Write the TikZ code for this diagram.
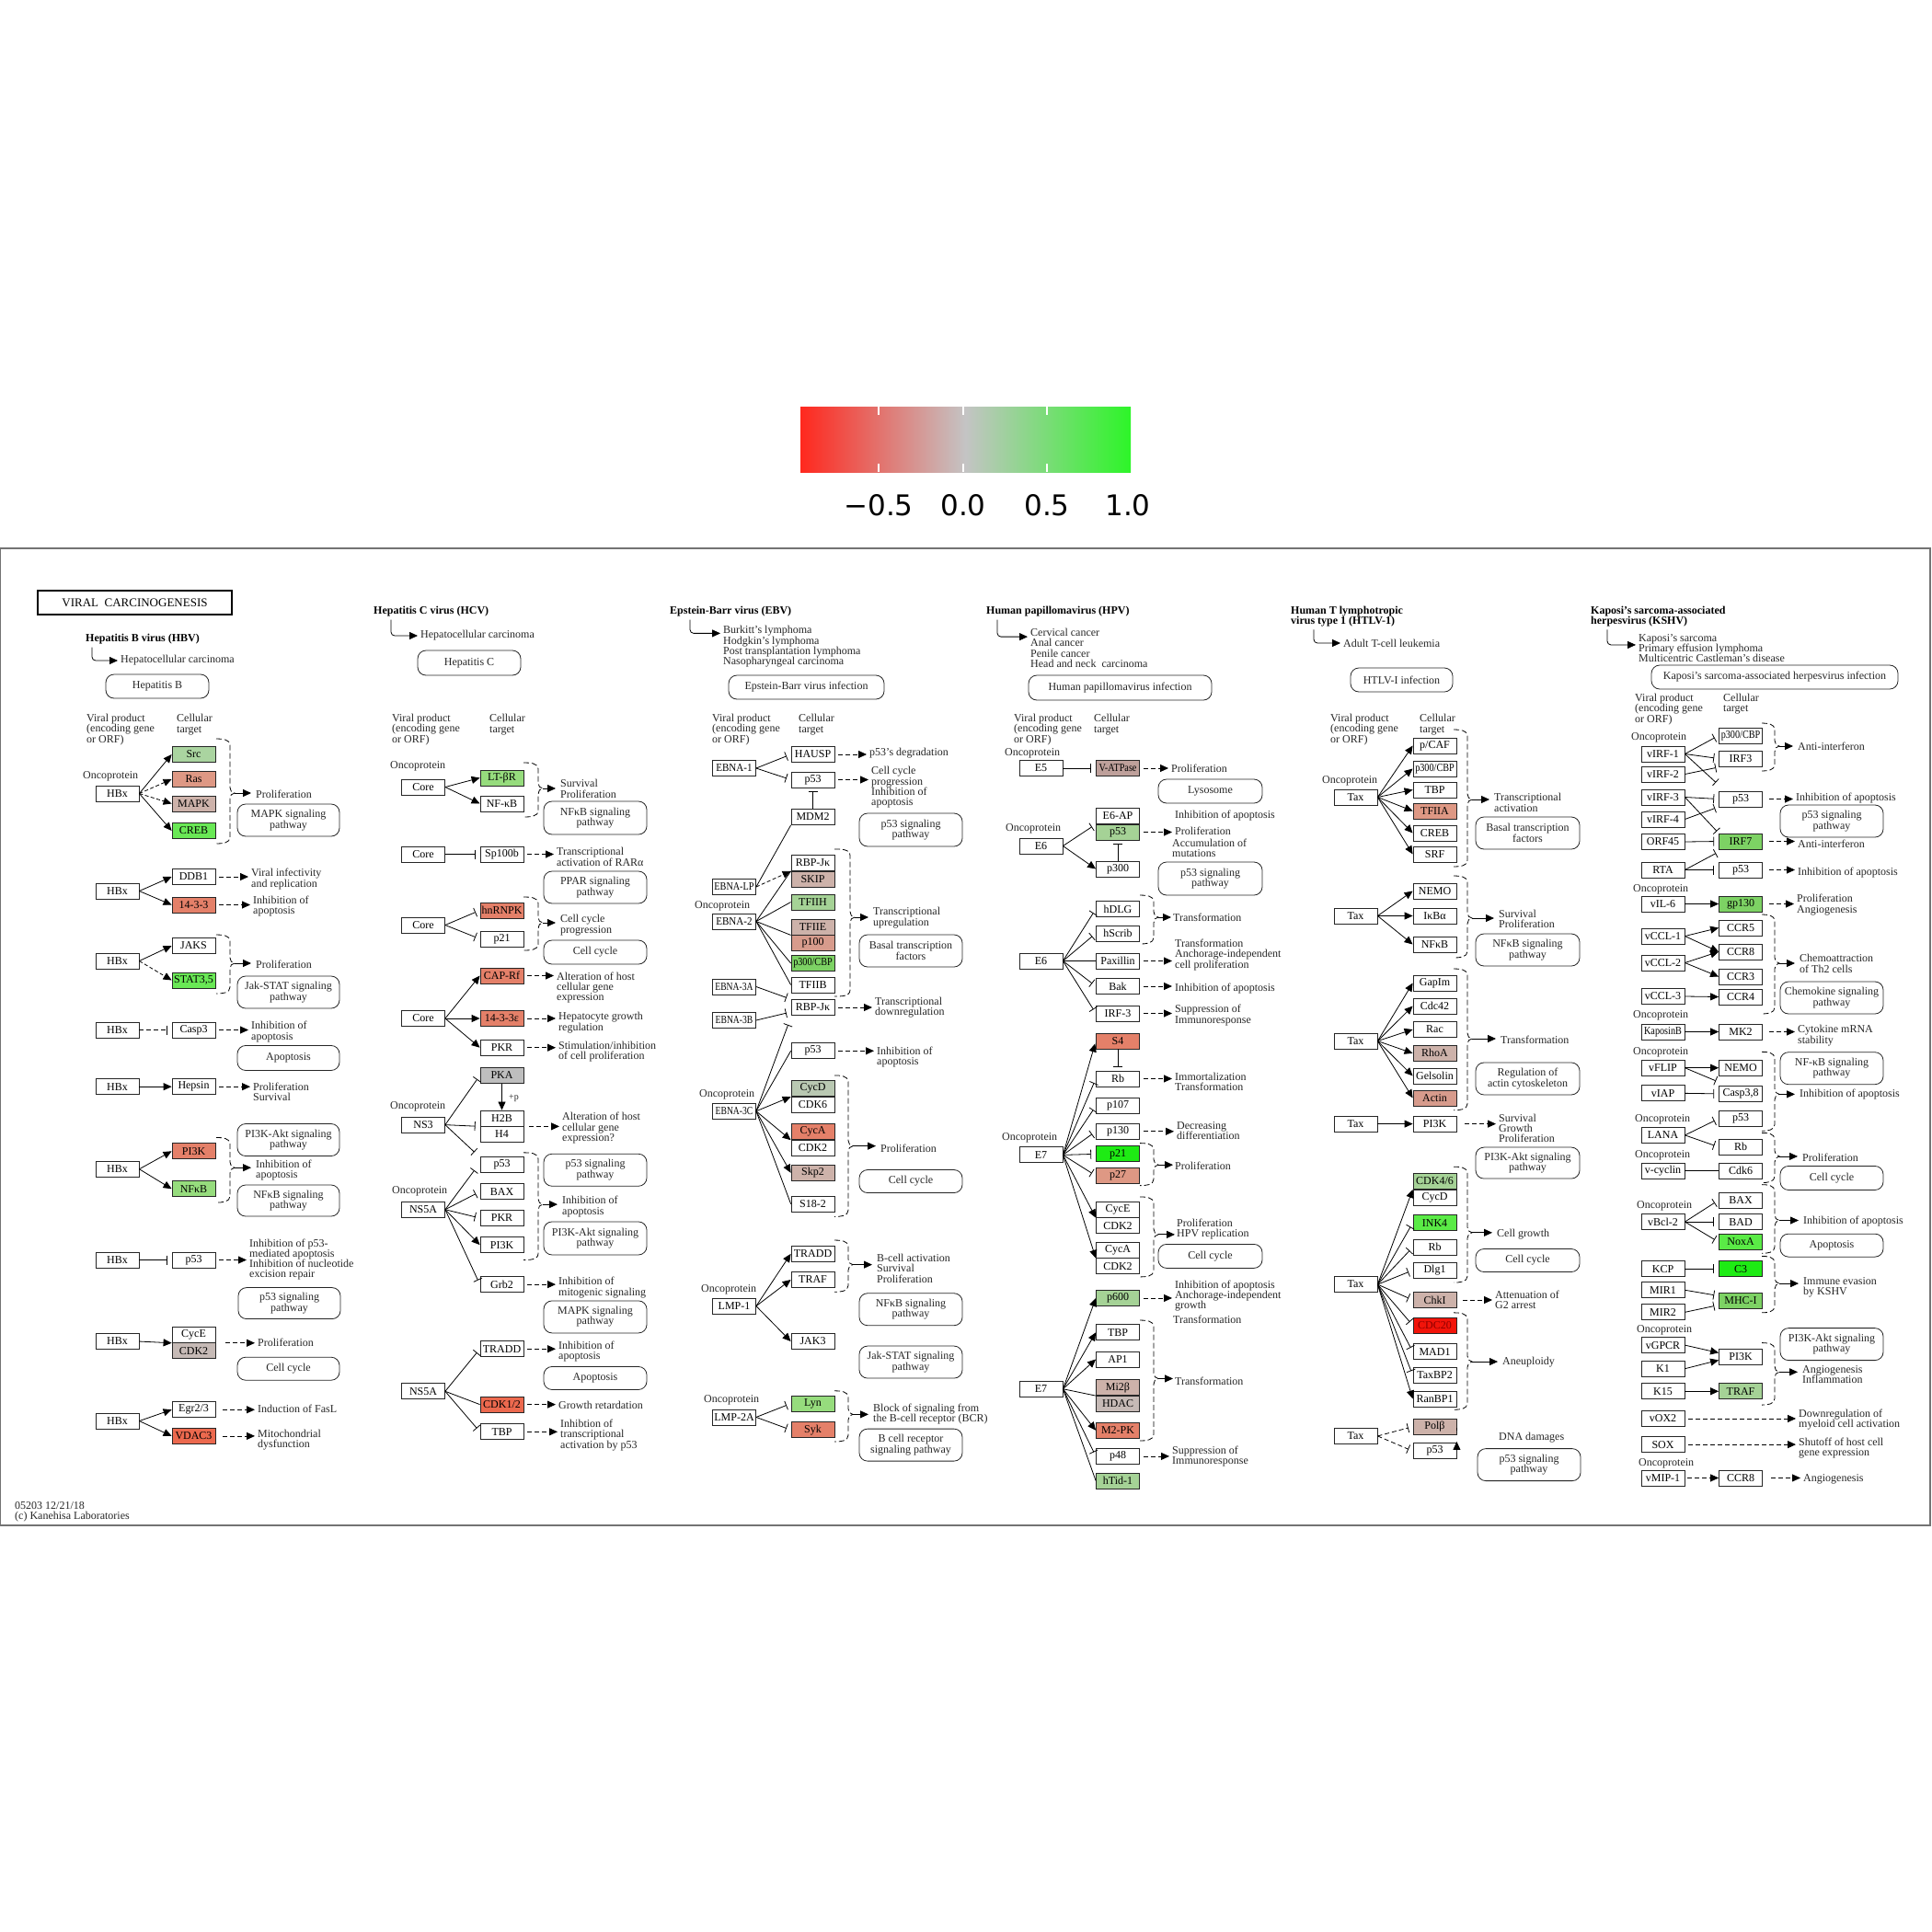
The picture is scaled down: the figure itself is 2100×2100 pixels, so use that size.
\documentclass[tikz,border=0pt]{standalone}
\usepackage{fontspec}
\usepackage{graphicx}
\setmainfont{Liberation Serif}
\newfontfamily\barfont{DejaVu Sans}
\usetikzlibrary{arrows.meta,calc}
\newcommand\gfs{\fontsize{12}{11.3}\selectfont}
\newcommand\sq[2][0.85]{\scalebox{#1}[1]{#2}}
\pgfmathdeclarefunction{fy}{1}{\pgfmathparse{#1+(#1>1130)*(#1-1130)*0.0235}}
\definecolor{kG1}{RGB}{170,212,160}
\definecolor{kG2}{RGB}{105,232,85}
\definecolor{kG3}{RGB}{150,220,125}
\definecolor{kG4}{RGB}{30,235,20}
\definecolor{kG5}{RGB}{185,200,178}
\definecolor{kG6}{RGB}{125,210,100}
\definecolor{kG7}{RGB}{165,210,150}
\definecolor{kG8}{RGB}{90,235,70}
\definecolor{kR1}{RGB}{222,152,132}
\definecolor{kR2}{RGB}{228,128,105}
\definecolor{kR3}{RGB}{236,105,78}
\definecolor{kR4}{RGB}{242,20,10}
\definecolor{kR5}{RGB}{215,155,140}
\definecolor{kP1}{RGB}{205,178,170}
\definecolor{kP2}{RGB}{198,186,182}
\definecolor{kP3}{RGB}{190,160,155}
\definecolor{kGy}{RGB}{190,190,190}
\definecolor{cbR}{RGB}{255,40,30}
\definecolor{cbM}{RGB}{196,196,196}
\definecolor{cbG}{RGB}{45,245,40}
\tikzset{
 gene/.style={draw=black!85, line width=0.8pt, minimum width=47pt, minimum height=17pt, inner sep=0pt, font=\gfs},
 lbl/.style={anchor=west, align=left, inner sep=0pt, font=\gfs, text=black!85},
 hdr/.style={anchor=west, align=left, inner sep=0pt, font=\bfseries\gfs},
 pway/.style={draw=black!85, line width=0.8pt, rounded corners=9pt, align=center, inner sep=0pt, font=\gfs, text=black!85},
 act/.style={line width=0.8pt, -{Triangle[length=9pt,width=8pt]}},
 dacts/.style={act, dash pattern=on 4pt off 2.5pt},
 dact/.style={act, dash pattern=on 5pt off 3pt, shorten <=4pt, shorten >=3pt},
 inh/.style={line width=0.8pt, -{Bar[width=10pt]}, shorten >=5pt},
 inhz/.style={line width=0.8pt, -{Bar[width=10pt]}},
 dinh/.style={inh, dash pattern=on 5pt off 3pt},
 ln/.style={line width=0.8pt},
 kbrace/.style={line width=0.8pt, dash pattern=on 6pt off 3pt},
 bra/.style={act, shorten >=5pt},
 elb/.style={act, rounded corners=4pt, shorten >=3pt},
}
\newcommand\gn[5][white]{\node[gene,fill=#1] (#2) at (#3,{fy(#4)}) {#5};}
\newcommand\lb[4]{\node[lbl] (#1) at (#2,{fy(#3)}) {#4};}
\newcommand\pw[6]{\node[pway,minimum width=#4pt,minimum height=#5pt] (#1) at (#2,{fy(#3)}) {#6};}
\newcommand\brk[6]{\draw[kbrace] (#2,{fy(#4)}) to[out=0,in=90] (#3,{fy(#4)+7}) -- (#3,{fy(#5)-6}) to[out=-90,in=180] (#3+5,{fy(#5)}) to[out=180,in=90] (#3,{fy(#5)+6}) -- (#3,{fy(#6)-7}) to[out=-90,in=0] (#2,{fy(#6)}); \coordinate (#1) at (#3+5,{fy(#5)});}
\begin{document}
\begin{tikzpicture}[x=1pt,y=-1pt]
\fill[white] (0,0) rectangle (2100,2100);
\useasboundingbox (0,0) rectangle (2100,2100);
% colour bar
\shade[left color=cbR, right color=cbG, middle color=cbM] (870,442) rectangle (1229,513);
\foreach \t in {955,1047,1138}{\draw[white, line width=1.3pt] (\t,442) -- (\t,451) (\t,504) -- (\t,513);}
\node[font=\barfont\fontsize{31}{31}\selectfont] (cb1) at (955,549) {−0.5};
\node[font=\barfont\fontsize{31}{31}\selectfont] (cb2) at (1047,549) {0.0};
\node[font=\barfont\fontsize{31}{31}\selectfont] (cb3) at (1138,549) {0.5};
\node[font=\barfont\fontsize{31}{31}\selectfont] (cb4) at (1226,549) {1.0};
% frame
\draw[black!55, line width=1.2pt] (0.6,596) rectangle (2098,1658);
% ================= HBV =================
\node[draw=black, line width=1.6pt, minimum width=211pt, minimum height=26pt, inner sep=0pt, font=\fontsize{13}{13}\selectfont] (aT) at (146.5,655) {VIRAL\ \ CARCINOGENESIS};
\node[hdr] (aH) at (93,695) {Hepatitis B virus (HBV)};
\lb{aD}{131}{718}{Hepatocellular carcinoma}
\draw[elb] ($(aH.south west)+(7,3)$) |- (aD.west);
\pw{aP0}{171}{746}{112}{26}{Hepatitis B}
\lb{aVP}{94}{793}{Viral product\\(encoding gene\\or ORF)}
\lb{aCT}{192}{787.5}{Cellular\\target}
\lb{aO1}{90}{844}{Oncoprotein}
\gn{aHBx1}{127.5}{862.5}{HBx}
\gn[kG1]{aSrc}{210.5}{820}{Src}
\gn[kR1]{aRas}{210.5}{847}{Ras}
\gn[kP1]{aMAPK}{210.5}{873.5}{MAPK}
\gn[kG2]{aCREB}{210.5}{903}{CREB}
\draw[act] (aHBx1.east) -- (aSrc.west);
\draw[dacts] (aHBx1.east) -- (aRas.west);
\draw[dacts] (aHBx1.east) -- (aMAPK.west);
\draw[act] (aHBx1.east) -- (aCREB.west);
\brk{aB1}{235}{250}{803}{862}{917}
\lb{aL1}{278}{863}{Proliferation}
\draw[bra] (aB1) -- (aB1 -| aL1.west);
\pw{aP1}{313.5}{891.5}{111}{35}{MAPK signaling\\pathway}
\gn{aHBx2}{127.5}{968.5}{HBx}
\gn{aDDB1}{210.5}{953}{DDB1}
\gn[kR2]{a1433}{210.5}{983.5}{14-3-3}
\draw[act] (aHBx2.east) -- (aDDB1.west);
\draw[act] (aHBx2.east) -- (a1433.west);
\lb{aL2}{273}{955.5}{Viral infectivity\\and replication}
\lb{aL3}{275}{985}{Inhibition of\\apoptosis}
\draw[dact] (aDDB1.east) -- (aDDB1.east -| aL2.west);
\draw[dact] (a1433.east) -- (a1433.east -| aL3.west);
\gn{aHBx3}{127.5}{1044.5}{HBx}
\gn{aJAKS}{210.5}{1028}{JAKS}
\gn[kG2]{aSTAT}{210.5}{1065.5}{STAT3,5}
\draw[act] (aHBx3.east) -- (aJAKS.west);
\draw[dacts] (aHBx3.east) -- (aSTAT.west);
\brk{aB2}{235}{250}{1016}{1047}{1080}
\lb{aL4}{278}{1048}{Proliferation}
\draw[bra] (aB2) -- (aB2 -| aL4.west);
\pw{aP2}{313.5}{1078.5}{111}{35}{Jak-STAT signaling\\pathway}
\gn{aHBx4}{127.5}{1119.5}{HBx}
\gn{aCasp3}{210.5}{1119.5}{Casp3}
\draw[dinh] (aHBx4.east) -- (aCasp3.west);
\lb{aL5}{273}{1121.5}{Inhibition of\\apoptosis}
\draw[dact] (aCasp3.east) -- (aCasp3.east -| aL5.west);
\pw{aP3}{313.5}{1149.5}{111}{27}{Apoptosis}
\gn{aHBx5}{127.5}{1180}{HBx}
\gn{aHepsin}{210.5}{1180}{Hepsin}
\draw[act] (aHBx5.east) -- (aHepsin.west);
\lb{aL6}{275}{1185.5}{Proliferation\\Survival}
\draw[dact] (aHepsin.east) -- (aHepsin.east -| aL6.west);
\gn{aHBx6}{127.5}{1267.5}{HBx}
\gn[kR2]{aPI3K}{210.5}{1248.5}{PI3K}
\gn[kG3]{aNFkB}{210.5}{1288.5}{NFκB}
\draw[act] (aHBx6.east) -- (aPI3K.west);
\draw[act] (aHBx6.east) -- (aNFkB.west);
\brk{aB3}{235}{250}{1234}{1266}{1303}
\lb{aL7}{278}{1268.5}{Inhibition of\\apoptosis}
\draw[bra] (aB3) -- (aB3 -| aL7.west);
\pw{aP4}{313.5}{1236.5}{111}{35}{PI3K-Akt signaling\\pathway}
\pw{aP5}{313.5}{1301}{111}{34}{NFκB signaling\\pathway}
\gn{aHBx7}{127.5}{1364}{HBx}
\gn{ap53}{210.5}{1364}{p53}
\draw[inh] (aHBx7.east) -- (ap53.west);
\lb{aL8}{271}{1363.5}{Inhibition of p53-\\mediated apoptosis\\Inhibition of nucleotide\\excision repair}
\draw[dact] (ap53.east) -- (ap53.east -| aL8.west);
\pw{aP6}{314.5}{1410}{111}{34}{p53 signaling\\pathway}
\gn{aHBx8}{127.5}{1450.5}{HBx}
\gn{aCycE}{210.5}{1443.5}{CycE}
\gn[kP2]{aCDK2}{210.5}{1460.5}{CDK2}
\draw[act] (aHBx8.east) -- (aCycE.south west);
\lb{aL9}{280}{1452}{Proliferation}
\draw[dact, shorten <=11pt] (aCycE.south east) -- (aCycE.south east -| aL9.west);
\pw{aP7}{313.5}{1479.5}{111}{25}{Cell cycle}
\gn{aHBx9}{127.5}{1535}{HBx}
\gn{aEgr}{210.5}{1523}{Egr2/3}
\gn[kR3]{aVDAC}{210.5}{1551}{VDAC3}
\draw[act] (aHBx9.east) -- (aEgr.west);
\draw[act] (aHBx9.east) -- (aVDAC.west);
\lb{aL10}{280}{1522}{Induction of FasL}
\lb{aL11}{280}{1555}{Mitochondrial\\dysfunction}
\draw[dact, shorten <=8pt] (aEgr.east) -- (aEgr.east -| aL10.west);
\draw[dact, shorten <=8pt] (aVDAC.east) -- (aVDAC.east -| aL11.west);
\lb{aF}{16}{1631.5}{05203 12/21/18\\(c) Kanehisa Laboratories}
% ================= HCV =================
\node[hdr] (bH) at (406,665) {Hepatitis C virus (HCV)};
\lb{bD}{457}{691}{Hepatocellular carcinoma}
\draw[elb] ($(bH.south west)+(19,3)$) |- (bD.west);
\pw{bP0}{510}{720.5}{112}{27}{Hepatitis C}
\lb{bVP}{426}{793}{Viral product\\(encoding gene\\or ORF)}
\lb{bCT}{532}{787.5}{Cellular\\target}
\lb{bO1}{424}{833}{Oncoprotein}
\gn{bCore1}{460}{855.5}{Core}
\gn[kG3]{bLTbR}{545.5}{845.5}{LT-βR}
\gn{bNFkB}{545.5}{873.5}{NF-κB}
\draw[act] (bCore1.east) -- (bLTbR.west);
\draw[act] (bCore1.east) -- (bNFkB.west);
\brk{bB1}{569}{585}{829}{857}{888}
\lb{bL1}{609}{857.5}{Survival\\Proliferation}
\draw[bra] (bB1) -- (bB1 -| bL1.west);
\pw{bP1}{647}{889}{112}{36}{NFκB signaling\\pathway}
\gn{bCore2}{460}{928.5}{Core}
\gn{bSp100b}{545.5}{928.5}{Sp100b}
\draw[inh] (bCore2.east) -- (bSp100b.west);
\lb{bL2}{605}{931.5}{Transcriptional\\activation of RARα}
\draw[dact] (bSp100b.east) -- (bSp100b.east -| bL2.west);
\pw{bP2}{647}{964.5}{112}{35}{PPAR signaling\\pathway}
\gn{bCore3}{460}{1005.5}{Core}
\gn[kR2]{bhnRNPK}{545.5}{989.5}{hnRNPK}
\gn{bp21}{545.5}{1020.5}{p21}
\draw[inh] (bCore3.east) -- (bhnRNPK.west);
\draw[inh] (bCore3.east) -- (bp21.west);
\brk{bB2}{569}{585}{975}{1003}{1033}
\lb{bL3}{609}{1005.5}{Cell cycle\\progression}
\draw[bra] (bB2) -- (bB2 -| bL3.west);
\pw{bP3}{647}{1035}{112}{26}{Cell cycle}
\gn{bCore4}{460}{1107}{Core}
\gn[kR2]{bCAPRf}{545.5}{1060.5}{CAP-Rf}
\gn[kR2]{b1433e}{545.5}{1107}{14-3-3ε}
\gn{bPKR}{545.5}{1138.5}{PKR}
\draw[act] (bCore4.east) -- (bCAPRf.west);
\draw[act] (bCore4.east) -- (b1433e.west);
\draw[act] (bCore4.east) -- (bPKR.west);
\lb{bL4}{605}{1073.5}{Alteration of host\\cellular gene\\expression}
\lb{bL5}{607}{1111.5}{Hepatocyte growth\\regulation}
\lb{bL6}{607}{1143}{Stimulation/inhibition\\of cell proliferation}
\draw[dact] (bCAPRf.east) -- (bCAPRf.east -| bL4.west);
\draw[dact] (b1433e.east) -- (b1433e.east -| bL5.west);
\draw[dact] (bPKR.east) -- (bPKR.east -| bL6.west);
\lb{bO2}{424}{1201}{Oncoprotein}
\gn{bNS3}{460}{1220.5}{NS3}
\gn[kGy]{bPKA}{545.5}{1168}{PKA}
\gn{bH2B}{545.5}{1213.5}{H2B}
\gn{bH4}{545.5}{1230.5}{H4}
\draw[act] (bPKA.south) -- (bH2B.north);
\node[lbl, font=\fontsize{10}{10}\selectfont] (bplus) at (553,{fy(1192)}) {+p};
\lb{bL7}{611}{1224}{Alteration of host\\cellular gene\\expression?}
\draw[dact, shorten <=6pt] (bH2B.south east) -- (bH2B.south east -| bL7.west);
\lb{bO3}{426}{1291}{Oncoprotein}
\gn{bNS5A}{460}{1310.5}{NS5A}
\gn{bp53}{545.5}{1263}{p53}
\gn{bBAX}{545.5}{1291.5}{BAX}
\gn{bPKR2}{545.5}{1319.5}{PKR}
\gn{bPI3K}{545.5}{1348}{PI3K}
\gn{bGrb2}{545.5}{1390}{Grb2}
\draw[inh] (bNS3.east) -- (bPKA.west);
\draw[inh] (bNS3.east) -- (bH2B.south west);
\draw[inhz] (bNS3.east) -- ($(bp53.north west)+(-6,-5)$);
\draw[inhz] (bNS5A.east) -- ($(bp53.west)+(-6,6)$);
\draw[inh] (bNS5A.east) -- (bBAX.west);
\draw[inh] (bNS5A.east) -- (bPKR2.west);
\draw[act] (bNS5A.east) -- (bPI3K.west);
\draw[inh] (bNS5A.east) -- (bGrb2.west);
\brk{bB3}{569}{585}{1250}{1305}{1364}
\lb{bL8}{611}{1307.5}{Inhibition of\\apoptosis}
\draw[bra] (bB3) -- (bB3 -| bL8.west);
\pw{bP4}{647}{1268.5}{112}{35}{p53 signaling\\pathway}
\pw{bP5}{647}{1341}{112}{36}{PI3K-Akt signaling\\pathway}
\lb{bL9}{607}{1393.5}{Inhibition of\\mitogenic signaling}
\draw[dact] (bGrb2.east) -- (bGrb2.east -| bL9.west);
\pw{bP6}{647}{1424.5}{112}{35}{MAPK signaling\\pathway}
\gn{bNS5A2}{460}{1503.5}{NS5A}
\gn{bTRADD}{545.5}{1458.5}{TRADD}
\gn[kR3]{bCDK12}{545.5}{1517.5}{CDK1/2}
\gn{bTBP}{545.5}{1546.5}{TBP}
\draw[inh] (bNS5A2.east) -- (bTRADD.west);
\draw[ln] (bNS5A2.east) -- (bCDK12.west);
\draw[inh] (bNS5A2.east) -- (bTBP.west);
\lb{bL10}{607}{1461.5}{Inhibition of\\apoptosis}
\draw[dact] (bTRADD.east) -- (bTRADD.east -| bL10.west);
\pw{bP7}{647}{1489.5}{112}{25}{Apoptosis}
\lb{bL11}{607}{1518}{Growth retardation}
\draw[dact] (bCDK12.east) -- (bCDK12.east -| bL11.west);
\lb{bL12}{609}{1550}{Inhibtion of\\transcriptional\\activation by p53}
\draw[dact] (bTBP.east) -- (bTBP.east -| bL12.west);
% ================= EBV =================
\node[hdr] (cH) at (728,665) {Epstein-Barr virus (EBV)};
\lb{cD}{786}{703}{Burkitt's lymphoma\\Hodgkin's lymphoma\\Post transplantation lymphoma\\Nasopharyngeal carcinoma}
\draw[elb] ($(cH.south west)+(22,3)$) |- ($(cD.north west)+(0,8)$);
\pw{cP0}{876.5}{747}{169}{26}{Epstein-Barr virus infection}
\lb{cVP}{774}{793}{Viral product\\(encoding gene\\or ORF)}
\lb{cCT}{868}{787.5}{Cellular\\target}
\gn{cEBNA1}{798}{835}{\sq[0.92]{EBNA-1}}
\gn{cHAUSP}{883.5}{820}{HAUSP}
\gn{cp53a}{883.5}{847.5}{p53}
\gn{cMDM2}{883.5}{888}{MDM2}
\draw[inh] (cEBNA1.east) -- (cHAUSP.west);
\draw[inh] (cEBNA1.east) -- (cp53a.west);
\draw[inh, shorten >=4pt] (cMDM2.north) -- (cp53a.south);
\lb{cL1}{945}{819}{p53's degradation}
\draw[dact] (cHAUSP.east) -- (cHAUSP.east -| cL1.west);
\lb{cL2}{947}{856}{Cell cycle\\progression\\Inhibition of\\apoptosis}
\draw[dact] (cp53a.east) -- (cp53a.east -| cL2.west);
\pw{cP1}{990}{902}{112}{36}{p53 signaling\\pathway}
\gn{cEBNALP}{798}{964}{\sq{EBNA-LP}}
\lb{cO1}{755}{985}{Oncoprotein}
\gn{cEBNA2}{798}{1001.5}{\sq[0.92]{EBNA-2}}
\gn{cRBP}{883.5}{938}{RBP-Jκ}
\gn[kP1]{cSKIP}{883.5}{955.5}{SKIP}
\gn[kG7]{cTFIIH}{883.5}{980.5}{TFIIH}
\gn[kP1]{cTFIIE}{883.5}{1007.5}{TFIIE}
\gn[kR5]{cp100}{883.5}{1024.5}{p100}
\gn[kG6]{cp300}{883.5}{1047}{\sq{p300/CBP}}
\gn{cTFIIB}{883.5}{1070.5}{TFIIB}
\draw[ln] (cEBNALP.east) -- (cMDM2.south west);
\draw[dacts] (cEBNALP.east) -- (cRBP.south west);
\draw[ln] (cEBNA2.east) -- (cRBP.south west);
\draw[ln] (cEBNA2.east) -- (cTFIIH.west);
\draw[ln] (cEBNA2.east) -- (cTFIIE.south west);
\draw[ln] (cEBNA2.east) -- (cp300.west);
\draw[ln] (cEBNA2.east) -- (cTFIIB.west);
\brk{cB1}{907}{924}{923}{997}{1083}
\lb{cL3}{949}{997.5}{Transcriptional\\upregulation}
\draw[bra] (cB1) -- (cB1 -| cL3.west);
\pw{cP2}{990}{1033.5}{112}{35}{Basal transcription\\factors}
\gn{cEBNA3A}{798}{1072.5}{\sq[0.8]{EBNA-3A}}
\gn{cEBNA3B}{798}{1109}{\sq[0.8]{EBNA-3B}}
\gn{cRBP2}{883.5}{1095}{RBP-Jκ}
\draw[inh] (cEBNA3A.east) -- (cRBP2.north west);
\draw[inh] (cEBNA3B.east) -- ($(cRBP2.west)+(0,5)$);
\lb{cL4}{951}{1095}{Transcriptional\\downregulation}
\draw[dact] (cRBP2.east) -- (cRBP2.east -| cL4.west);
\gn{cp53c}{883.5}{1142}{p53}
\lb{cL5}{953}{1148.5}{Inhibition of\\apoptosis}
\draw[dact] (cp53c.east) -- (cp53c.east -| cL5.west);
\lb{cO2}{760}{1188}{Oncoprotein}
\gn{cEBNA3C}{798}{1206}{\sq[0.8]{EBNA-3C}}
\gn[kG5]{cCycD}{883.5}{1182}{CycD}
\gn{cCDK6}{883.5}{1199}{CDK6}
\gn[kR2]{cCycA}{883.5}{1228}{CycA}
\gn{cCDK2}{883.5}{1245}{CDK2}
\gn[kP1]{cSkp2}{883.5}{1271.5}{Skp2}
\gn{cS182}{883.5}{1304.5}{S18-2}
\draw[inhz] (cEBNA3C.east) -- ($(cRBP2.south west)+(-3,10)$);
\draw[ln] (cEBNA3C.east) -- (cp53c.west);
\draw[act] (cEBNA3C.east) -- (cCycD.south west);
\draw[act] (cEBNA3C.east) -- (cCycA.south west);
\draw[act] (cEBNA3C.east) -- (cSkp2.west);
\draw[ln] (cEBNA3C.east) -- (cS182.west);
\brk{cB2}{907}{922}{1168}{1243}{1318}
\lb{cL6}{957}{1246}{Proliferation}
\draw[bra] (cB2) -- (cB2 -| cL6.west);
\pw{cP3}{990}{1280.5}{112}{25}{Cell cycle}
\lb{cO3}{762}{1396}{Oncoprotein}
\gn{cLMP1}{798}{1413}{LMP-1}
\gn{cTRADD}{883.5}{1357.5}{TRADD}
\gn{cTRAF}{883.5}{1385}{TRAF}
\gn{cJAK3}{883.5}{1450.5}{JAK3}
\draw[act] (cLMP1.east) -- (cTRADD.west);
\draw[act] (cLMP1.east) -- (cTRAF.west);
\draw[act] (cLMP1.east) -- (cJAK3.west);
\brk{cB3}{907}{922}{1343}{1369}{1398}
\lb{cL7}{953}{1373}{B-cell activation\\Survival\\Proliferation}
\draw[bra] (cB3) -- (cB3 -| cL7.west);
\pw{cP4}{990}{1416.5}{112}{35}{NFκB signaling\\pathway}
\pw{cP5}{990}{1472.5}{112}{35}{Jak-STAT signaling\\pathway}
\lb{cO4}{765}{1513}{Oncoprotein}
\gn{cLMP2A}{798}{1531}{LMP-2A}
\gn[kG3]{cLyn}{883.5}{1516.5}{Lyn}
\gn[kR2]{cSyk}{883.5}{1544.5}{Syk}
\draw[inh] (cLMP2A.east) -- (cLyn.west);
\draw[inh] (cLMP2A.east) -- (cSyk.west);
\brk{cB4}{907}{922}{1503}{1528}{1557}
\lb{cL8}{949}{1527.5}{Block of signaling from\\the B-cell receptor (BCR)}
\draw[bra] (cB4) -- (cB4 -| cL8.west);
\pw{cP6}{990}{1560.5}{112}{35}{B cell receptor\\signaling pathway}
% ================= HPV =================
\node[hdr] (dH) at (1072,665) {Human papillomavirus (HPV)};
\lb{dD}{1120}{704.5}{Cervical cancer\\Anal cancer\\Penile cancer\\Head and neck\ \ carcinoma}
\draw[elb] ($(dH.south west)+(12,3)$) |- ($(dD.north west)+(0,9)$);
\pw{dP0}{1217.5}{747.5}{199}{27}{Human papillomavirus infection}
\lb{dVP}{1102}{793}{Viral product\\(encoding gene\\or ORF)}
\lb{dCT}{1189}{787.5}{Cellular\\target}
\lb{dO1}{1092}{819}{Oncoprotein}
\gn{dE5}{1131.5}{835}{E5}
\gn[kP3]{dVATP}{1215}{835}{\sq{V-ATPase}}
\draw[inh] (dE5.east) -- (dVATP.west);
\lb{dL1}{1273}{835}{Proliferation}
\draw[dact] (dVATP.east) -- (dVATP.east -| dL1.west);
\pw{dP1}{1315.5}{860}{113}{26}{Lysosome}
\lb{dO2}{1093}{901}{Oncoprotein}
\gn{dE6a}{1131.5}{919.5}{E6}
\gn{dE6AP}{1215}{887}{E6-AP}
\gn[kG7]{dp53}{1215}{904.5}{p53}
\gn{dp300}{1215}{944.5}{p300}
\draw[inh] (dE6a.east) -- (dE6AP.south west);
\draw[act] (dE6a.east) -- (dp300.west);
\draw[inh, shorten >=4pt] (dp300.north) -- (dp53.south);
\lb{dL2}{1277}{887}{Inhibition of apoptosis}
\lb{dL3}{1277}{903}{Proliferation}
\lb{dL4}{1274}{921.5}{Accumulation of\\mutations}
\draw[dact] (dp53.east) -- (dp53.east -| dL3.west);
\pw{dP2}{1315.5}{955}{113}{36}{p53 signaling\\pathway}
\gn{dE6b}{1131.5}{1044.5}{E6}
\gn{dhDLG}{1215}{988}{hDLG}
\gn{dhScrib}{1215}{1014.5}{hScrib}
\gn{dPax}{1215}{1044.5}{Paxillin}
\gn{dBak}{1215}{1072}{Bak}
\gn{dIRF3}{1215}{1101.5}{IRF-3}
\draw[inh] (dE6b.east) -- (dhDLG.west);
\draw[inh] (dE6b.east) -- (dhScrib.west);
\draw[ln] (dE6b.east) -- (dPax.west);
\draw[inh] (dE6b.east) -- (dBak.west);
\draw[inh] (dE6b.east) -- (dIRF3.west);
\brk{dB1}{1239}{1254}{973}{997}{1026}
\lb{dL5}{1275}{997}{Transformation}
\draw[bra, shorten >=2pt] (dB1) -- (dB1 -| dL5.west);
\lb{dL6}{1277}{1038}{Transformation\\Anchorage-independent\\cell proliferation}
\draw[dact] (dPax.east) -- (dPax.east -| dL6.west);
\lb{dL7}{1277}{1075}{Inhibition of apoptosis}
\draw[dact] (dBak.east) -- (dBak.east -| dL7.west);
\lb{dL8}{1277}{1103.5}{Suppression of\\Immunoresponse}
\draw[dact] (dIRF3.east) -- (dIRF3.east -| dL8.west);
\gn[kR2]{dS4}{1215}{1131.5}{S4}
\gn{dRb}{1215}{1171.5}{Rb}
\gn{dp107}{1215}{1200.5}{p107}
\gn{dp130}{1215}{1227.5}{p130}
\gn[kG4]{dp21}{1215}{1251.5}{p21}
\gn[kR1]{dp27}{1215}{1274.5}{p27}
\gn{dCycE}{1215}{1310.5}{CycE}
\gn{dCDK2a}{1215}{1327.5}{CDK2}
\gn{dCycA}{1215}{1353.5}{CycA}
\gn{dCDK2b}{1215}{1370.5}{CDK2}
\lb{dO3}{1089}{1234}{Oncoprotein}
\gn{dE7a}{1131.5}{1252.5}{E7}
\draw[act, shorten >=3pt] (dE7a.east) -- (dS4.west);
\draw[inh, shorten >=4pt] (dS4.south) -- (dRb.north);
\draw[inh] (dE7a.east) -- (dRb.west);
\draw[inh] (dE7a.east) -- (dp107.west);
\draw[inh] (dE7a.east) -- (dp130.west);
\draw[inh] (dE7a.east) -- (dp21.west);
\draw[inh] (dE7a.east) -- (dp27.west);
\draw[act] (dE7a.east) -- (dCycE.south west);
\draw[act] (dE7a.east) -- (dCycA.south west);
\lb{dL9}{1277}{1175}{Immortalization\\Transformation}
\draw[dact] (dRb.east) -- (dRb.east -| dL9.west);
\lb{dL10}{1279}{1226.5}{Decreasing\\differentiation}
\draw[dact] (dp130.east) -- (dp130.east -| dL10.west);
\brk{dB2}{1239}{1254}{1240}{1263}{1285}
\lb{dL11}{1277}{1264}{Proliferation}
\draw[bra, shorten >=2pt] (dB2) -- (dB2 -| dL11.west);
\brk{dB3}{1239}{1254}{1297}{1337}{1382}
\lb{dL12}{1279}{1331.5}{Proliferation\\HPV replication}
\draw[bra, shorten >=2pt] (dB3) -- (dB3 -| dL12.west);
\pw{dP3}{1315.5}{1360}{113}{26}{Cell cycle}
\gn{dE7b}{1131.5}{1501}{E7}
\gn[kG7]{dp600}{1215}{1404.5}{p600}
\gn{dTBP}{1215}{1441}{TBP}
\gn{dAP1}{1215}{1469.5}{AP1}
\gn[kP1]{dMi2}{1215}{1499.5}{Mi2β}
\gn[kP2]{dHDAC}{1215}{1516.5}{HDAC}
\gn[kR2]{dM2PK}{1215}{1545}{M2-PK}
\gn{dp48}{1215}{1572.5}{p48}
\gn[kG7]{dhTid}{1215}{1598.5}{hTid-1}
\draw[act] (dE7b.east) -- (dp600.west);
\draw[act] (dE7b.east) -- (dTBP.west);
\draw[act] (dE7b.east) -- (dAP1.west);
\draw[ln] (dE7b.east) -- (dMi2.south west);
\draw[act] (dE7b.east) -- (dM2PK.west);
\draw[inh] (dE7b.east) -- (dp48.west);
\draw[ln] (dE7b.east) -- (dhTid.west);
\lb{dL13}{1277}{1402}{Inhibition of apoptosis\\Anchorage-independent\\growth}
\lb{dL14}{1275}{1427}{Transformation}
\draw[dact] (dp600.east) -- (dp600.east -| dL13.west);
\brk{dB4}{1239}{1254}{1428}{1490}{1556}
\lb{dL15}{1277}{1493}{Transformation}
\draw[bra, shorten >=2pt] (dB4) -- (dB4 -| dL15.west);
\lb{dL16}{1274}{1572.5}{Suppression of\\Immunoresponse}
\draw[dact] (dp48.east) -- (dp48.east -| dL16.west);
% ================= HTLV =================
\node[hdr] (eH) at (1403,670) {Human T lymphotropic\\virus type 1 (HTLV-1)};
\lb{eD}{1460}{699}{Adult T-cell leukemia}
\draw[elb] ($(eH.south west)+(25,3)$) |- (eD.west);
\pw{eP0}{1523.5}{739}{111}{26}{HTLV-I infection}
\lb{eVP}{1446}{793}{Viral product\\(encoding gene\\or ORF)}
\lb{eCT}{1543}{787.5}{Cellular\\target}
\lb{eO1}{1437}{849}{Oncoprotein}
\gn{eTax1}{1473.5}{866.5}{Tax}
\gn{epCAF}{1559.5}{810.5}{p/CAF}
\gn{ep300}{1559.5}{835.5}{\sq{p300/CBP}}
\gn{eTBP}{1559.5}{858.5}{TBP}
\gn[kR1]{eTFIIA}{1559.5}{881.5}{TFIIA}
\gn{eCREB}{1559.5}{905.5}{CREB}
\gn{eSRF}{1559.5}{928.5}{SRF}
\foreach \n in {epCAF,ep300,eTBP,eTFIIA,eCREB,eSRF}{\draw[act] (eTax1.east) -- (\n.west);}
\brk{eB1}{1580}{1595}{793}{869}{942}
\lb{eL1}{1624}{872.5}{Transcriptional\\activation}
\draw[bra] (eB1) -- (eB1 -| eL1.west);
\pw{eP1}{1660.5}{905.5}{113}{35}{Basal transcription\\factors}
\gn{eTax2}{1473.5}{995.5}{Tax}
\gn{eNEMO}{1559.5}{968.5}{NEMO}
\gn{eIkBa}{1559.5}{995.5}{IκBα}
\gn{eNFkB}{1559.5}{1026.5}{NFκB}
\foreach \n in {eNEMO,eIkBa,eNFkB}{\draw[act] (eTax2.east) -- (\n.west);}
\brk{eB2}{1580}{1595}{952}{998}{1041}
\lb{eL2}{1629}{999}{Survival\\Proliferation}
\draw[bra] (eB2) -- (eB2 -| eL2.west);
\pw{eP2}{1660.5}{1032.5}{113}{35}{NFκB signaling\\pathway}
\gn{eTax3}{1473.5}{1131.5}{Tax}
\gn{eGapIm}{1559.5}{1068.5}{GapIm}
\gn{eCdc42}{1559.5}{1093.5}{Cdc42}
\gn{eRac}{1559.5}{1119}{Rac}
\gn[kP1]{eRhoA}{1559.5}{1144.5}{RhoA}
\gn{eGels}{1559.5}{1168.5}{Gelsolin}
\gn[kR5]{eActin}{1559.5}{1192}{Actin}
\foreach \n in {eGapIm,eCdc42,eRac,eRhoA,eGels,eActin}{\draw[act] (eTax3.east) -- (\n.west);}
\brk{eB3}{1580}{1595}{1053}{1129}{1205}
\lb{eL3}{1631}{1130}{Transformation}
\draw[bra] (eB3) -- (eB3 -| eL3.west);
\pw{eP3}{1660.5}{1171.5}{113}{35}{Regulation of\\actin cytoskeleton}
\gn{eTax4}{1473.5}{1219.5}{Tax}
\gn{ePI3K}{1559.5}{1219.5}{PI3K}
\draw[act] (eTax4.east) -- (ePI3K.west);
\lb{eL4}{1629}{1224}{Survival\\Growth\\Proliferation}
\draw[dact, shorten <=9pt] (ePI3K.east) -- (ePI3K.east -| eL4.west);
\pw{eP4}{1660.5}{1261}{113}{34}{PI3K-Akt signaling\\pathway}
\gn{eTax5}{1473.5}{1390}{Tax}
\gn[kG7]{eCDK46}{1559.5}{1280.5}{CDK4/6}
\gn{eCycD}{1559.5}{1297.5}{CycD}
\gn[kG8]{eINK4}{1559.5}{1324.5}{INK4}
\gn{eRb}{1559.5}{1350.5}{Rb}
\gn{eDlg1}{1559.5}{1375}{Dlg1}
\gn[kP1]{eChkI}{1559.5}{1406.5}{ChkI}
\node[gene, fill=kR4, text={rgb,255:red,140;green,0;blue,0}] (eCDC20) at (1559.5,{fy(1433.5)}) {CDC20};
\gn{eMAD1}{1559.5}{1461.5}{MAD1}
\gn{eTaxBP2}{1559.5}{1486.5}{TaxBP2}
\gn{eRanBP1}{1559.5}{1511.5}{RanBP1}
\draw[act] (eTax5.east) -- (eCDK46.south west);
\foreach \n in {eINK4,eRb,eDlg1,eChkI,eCDC20,eMAD1,eTaxBP2}{\draw[inh] (eTax5.east) -- (\n.west);}
\draw[act] (eTax5.east) -- (eRanBP1.west);
\brk{eB4}{1580}{1595}{1265}{1335}{1388}
\lb{eL5}{1627}{1337}{Cell growth}
\draw[bra] (eB4) -- (eB4 -| eL5.west);
\pw{eP5}{1660.5}{1364.5}{113}{25}{Cell cycle}
\lb{eL6}{1625}{1406.5}{Attenuation of\\G2 arrest}
\draw[dact, shorten <=7pt] (eChkI.east) -- (eChkI.east -| eL6.west);
\brk{eB5}{1580}{1595}{1420}{1472}{1523}
\lb{eL7}{1633}{1473}{Aneuploidy}
\draw[bra] (eB5) -- (eB5 -| eL7.west);
\gn{eTax6}{1473.5}{1551}{Tax}
\gn[kP1]{ePolb}{1559.5}{1541}{Polβ}
\gn{ep53}{1559.5}{1567}{p53}
\draw[dinh] (eTax6.east) -- (ePolb.west);
\draw[dinh] (eTax6.east) -- (ep53.west);
\lb{eL8}{1629}{1553}{DNA damages}
\draw[dact, shorten <=9pt] ($(ePolb.south east)!0.5!(ep53.north east)$) -- ($(ePolb.south east)!0.5!(ep53.north east)$ -| eL8.west);
\pw{eP6}{1662}{1581.5}{112}{35}{p53 signaling\\pathway}
% ================= KSHV =================
\node[hdr] (fH) at (1729,670) {Kaposi's sarcoma-associated\\herpesvirus (KSHV)};
\lb{fD}{1781}{704.5}{Kaposi's sarcoma\\Primary effusion lymphoma\\Multicentric Castleman's disease}
\draw[elb] ($(fH.south west)+(18,3)$) |- ($(fD.north west)+(0,12)$);
\pw{fP0}{1929}{736}{268}{26}{Kaposi's sarcoma-associated herpesvirus infection}
\lb{fVP}{1777}{771}{Viral product\\(encoding gene\\or ORF)}
\lb{fCT}{1873}{765}{Cellular\\target}
\lb{fO1}{1773}{802}{Oncoprotein}
\gn{fvIRF1}{1807.5}{819.5}{vIRF-1}
\gn{fvIRF2}{1807.5}{841.5}{vIRF-2}
\gn{fvIRF3}{1807.5}{866.5}{vIRF-3}
\gn{fvIRF4}{1807.5}{890.5}{vIRF-4}
\gn{fORF45}{1807.5}{915}{ORF45}
\gn{fRTA}{1807.5}{945.5}{RTA}
\lb{fO2}{1775}{967}{Oncoprotein}
\gn{fvIL6}{1807.5}{982.5}{vIL-6}
\gn{fvCCL1}{1807.5}{1017.5}{vCCL-1}
\gn{fvCCL2}{1807.5}{1046.5}{vCCL-2}
\gn{fvCCL3}{1807.5}{1083}{vCCL-3}
\lb{fO3}{1775}{1104}{Oncoprotein}
\gn{fKapB}{1807.5}{1121.5}{\sq{KaposinB}}
\gn{fp300}{1892}{799.5}{\sq{p300/CBP}}
\gn{fIRF3}{1892}{824.5}{IRF3}
\gn{fp53a}{1892}{868.5}{p53}
\gn[kG6]{fIRF7}{1892}{914.5}{IRF7}
\gn{fp53b}{1892}{945.5}{p53}
\gn[kG6]{fgp130}{1892}{982.5}{gp130}
\gn{fCCR5}{1892}{1008.5}{CCR5}
\gn{fCCR8}{1892}{1034.5}{CCR8}
\gn{fCCR3}{1892}{1061.5}{CCR3}
\gn{fCCR4}{1892}{1083.5}{CCR4}
\gn{fMK2}{1892}{1121.5}{MK2}
\draw[inh] (fvIRF1.east) -- (fp300.west);
\draw[inh] (fvIRF1.east) -- (fIRF3.west);
\draw[inhz] (fvIRF1.east) -- ($(fp53a.west)+(-3,-18)$);
\draw[inhz] (fvIRF2.east) -- ($(fIRF3.west)+(-3,10)$);
\draw[inh] (fvIRF3.east) -- (fp53a.west);
\draw[inhz] (fvIRF3.east) -- ($(fIRF7.west)+(-2,-11)$);
\draw[inhz] (fvIRF4.east) -- ($(fp53a.west)+(-4,10)$);
\draw[inh] (fORF45.east) -- (fIRF7.west);
\draw[inhz] (fRTA.east) -- ($(fIRF7.west)+(-3,13)$);
\draw[inh] (fRTA.east) -- (fp53b.west);
\brk{fB1}{1915}{1929}{786}{811}{838}
\lb{fL1}{1954}{811}{Anti-interferon}
\draw[bra] (fB1) -- (fB1 -| fL1.west);
\lb{fL2}{1952}{868}{Inhibition of apoptosis}
\draw[dact, shorten <=7pt] (fp53a.east) -- (fp53a.east -| fL2.west);
\pw{fP1}{1991}{892.5}{112}{35}{p53 signaling\\pathway}
\lb{fL3}{1954}{917}{Anti-interferon}
\draw[dact, shorten <=7pt] (fIRF7.east) -- (fIRF7.east -| fL3.west);
\lb{fL4}{1954}{949}{Inhibition of apoptosis}
\draw[dact, shorten <=7pt] (fp53b.east) -- (fp53b.east -| fL4.west);
\draw[act] (fvIL6.east) -- (fgp130.west);
\lb{fL5}{1953}{983.5}{Proliferation\\Angiogenesis}
\draw[dact, shorten <=7pt] (fgp130.east) -- (fgp130.east -| fL5.west);
\draw[act] (fvCCL1.east) -- (fCCR5.west);
\draw[act] (fvCCL1.east) -- (fCCR8.west);
\draw[act] (fvCCL2.east) -- (fCCR8.west);
\draw[act] (fvCCL2.east) -- (fCCR3.west);
\draw[act] (fvCCL3.east) -- (fCCR4.west);
\brk{fB2}{1915}{1929}{994}{1047}{1102}
\lb{fL6}{1956}{1047.5}{Chemoattraction\\of Th2 cells}
\draw[bra] (fB2) -- (fB2 -| fL6.west);
\pw{fP2}{1991}{1084.5}{112}{35}{Chemokine signaling\\pathway}
\draw[act] (fKapB.east) -- (fMK2.west);
\lb{fL7}{1954}{1125.5}{Cytokine mRNA\\stability}
\draw[dact, shorten <=7pt] (fMK2.east) -- (fMK2.east -| fL7.west);
\lb{fO4}{1775}{1143}{Oncoprotein}
\gn{fvFLIP}{1807.5}{1160}{vFLIP}
\gn{fvIAP}{1807.5}{1187}{vIAP}
\lb{fO5}{1777}{1215}{Oncoprotein}
\gn{fLANA}{1807.5}{1231.5}{LANA}
\lb{fO6}{1777}{1253}{Oncoprotein}
\gn{fvcyc}{1807.5}{1269.5}{v-cyclin}
\lb{fO7}{1779}{1307}{Oncoprotein}
\gn{fvBcl2}{1807.5}{1323.5}{vBcl-2}
\gn{fKCP}{1807.5}{1373.5}{KCP}
\gn{fMIR1}{1807.5}{1396}{MIR1}
\gn{fMIR2}{1807.5}{1419.5}{MIR2}
\lb{fO8}{1779}{1439}{Oncoprotein}
\gn{fvGPCR}{1807.5}{1454.5}{vGPCR}
\gn{fK1}{1807.5}{1479.5}{K1}
\gn{fK15}{1807.5}{1503.5}{K15}
\gn{fvOX2}{1807.5}{1532.5}{vOX2}
\gn{fSOX}{1807.5}{1560}{SOX}
\lb{fO9}{1781}{1580}{Oncoprotein}
\gn{fvMIP}{1807.5}{1595.5}{vMIP-1}
\gn{fNEMO}{1892}{1160}{NEMO}
\gn{fCasp}{1892}{1187.5}{Casp3,8}
\gn{fp53c}{1892}{1214}{p53}
\gn{fRb}{1892}{1244}{Rb}
\gn{fCdk6}{1892}{1269.5}{Cdk6}
\gn{fBAX}{1892}{1300.5}{BAX}
\gn{fBAD}{1892}{1323.5}{BAD}
\gn[kG8]{fNoxA}{1892}{1345}{NoxA}
\gn[kG4]{fC3}{1892}{1373.5}{C3}
\gn[kG6]{fMHC}{1892}{1407}{MHC-I}
\gn{fPI3K}{1892}{1466.5}{PI3K}
\gn[kG7]{fTRAF}{1892}{1503.5}{TRAF}
\gn{fCCR8b}{1892}{1595.5}{CCR8}
\draw[act] (fvFLIP.east) -- (fNEMO.west);
\draw[inhz] (fvFLIP.east) -- ($(fCasp.west)+(-3,-14)$);
\draw[inh] (fvIAP.east) -- (fCasp.west);
\draw[inh] (fLANA.east) -- (fp53c.west);
\draw[inh] (fLANA.east) -- (fRb.west);
\draw[ln] (fvcyc.east) -- (fCdk6.west);
\draw[inh] (fvBcl2.east) -- (fBAX.west);
\draw[inh] (fvBcl2.east) -- (fBAD.west);
\draw[inh] (fvBcl2.east) -- (fNoxA.west);
\draw[inh] (fKCP.east) -- (fC3.west);
\draw[inh] (fMIR1.east) -- ($(fMHC.west)+(0,-5)$);
\draw[inh] (fMIR2.east) -- ($(fMHC.west)+(0,5)$);
\draw[act] (fvGPCR.east) -- ($(fPI3K.west)+(0,-4)$);
\draw[act] (fK1.east) -- ($(fPI3K.west)+(0,4)$);
\draw[act] (fK15.east) -- (fTRAF.west);
\brk{fB3}{1915}{1929}{1143}{1188}{1227}
\lb{fL8}{1956}{1188}{Inhibition of apoptosis}
\draw[bra] (fB3) -- (fB3 -| fL8.west);
\pw{fP3}{1991}{1160.5}{112}{35}{NF-κB signaling\\pathway}
\brk{fB4}{1915}{1929}{1229}{1254}{1282}
\lb{fL9}{1959}{1255}{Proliferation}
\draw[bra] (fB4) -- (fB4 -| fL9.west);
\pw{fP4}{1991}{1277}{112}{26}{Cell cycle}
\brk{fB5}{1915}{1929}{1284}{1322}{1357}
\lb{fL10}{1960}{1323}{Inhibition of apoptosis}
\draw[bra] (fB5) -- (fB5 -| fL10.west);
\pw{fP5}{1991}{1348.5}{112}{25}{Apoptosis}
\brk{fB6}{1915}{1929}{1360}{1389}{1420}
\lb{fL11}{1960}{1393}{Immune evasion\\by KSHV}
\draw[bra] (fB6) -- (fB6 -| fL11.west);
\brk{fB7}{1915}{1929}{1452}{1483}{1518}
\lb{fL12}{1959}{1485.5}{Angiogenesis\\Inflammation}
\draw[bra] (fB7) -- (fB7 -| fL12.west);
\pw{fP6}{1991}{1453.5}{112}{35}{PI3K-Akt signaling\\pathway}
\lb{fL13}{1955}{1533.5}{Downregulation of\\myeloid cell activation}
\draw[dact] (fvOX2.east) -- (fvOX2.east -| fL13.west);
\lb{fL14}{1955}{1564}{Shutoff of host cell\\gene expression}
\draw[dact] (fSOX.east) -- (fSOX.east -| fL14.west);
\draw[act, dash pattern=on 5pt off 3pt, shorten <=3pt] (fvMIP.east) -- (fCCR8b.west);
\lb{fL15}{1960}{1597}{Angiogenesis}
\draw[dact, shorten <=9pt] (fCCR8b.east) -- (fCCR8b.east -| fL15.west);
\end{tikzpicture}
\end{document}
